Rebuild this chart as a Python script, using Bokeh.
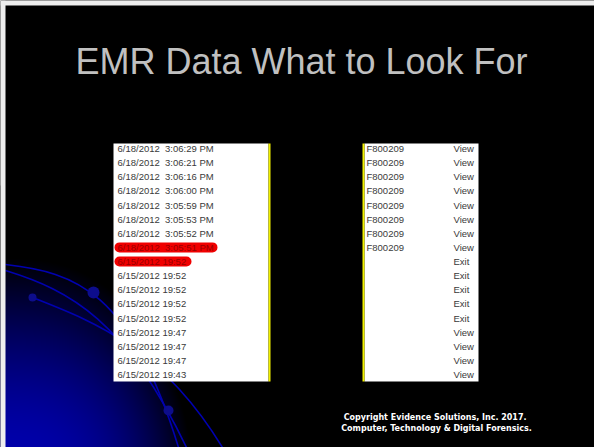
import numpy as np
from bokeh.plotting import figure
from bokeh.models import Range1d, ColumnDataSource
from bokeh.embed import file_html
from bokeh.resources import INLINE
from bokeh.core.properties import value

# ---------------- data ----------------
title_text = "EMR Data What to Look For"

timestamps = [
    "6/18/2012  3:06:29 PM",
    "6/18/2012  3:06:21 PM",
    "6/18/2012  3:06:16 PM",
    "6/18/2012  3:06:00 PM",
    "6/18/2012  3:05:59 PM",
    "6/18/2012  3:05:53 PM",
    "6/18/2012  3:05:52 PM",
    "6/18/2012  3:05:51 PM",
    "6/15/2012 19:52",
    "6/15/2012 19:52",
    "6/15/2012 19:52",
    "6/15/2012 19:52",
    "6/15/2012 19:52",
    "6/15/2012 19:47",
    "6/15/2012 19:47",
    "6/15/2012 19:47",
    "6/15/2012 19:43",
]
user_ids = ["F800209", "F800209", "F800209", "F800209", "F800209", "F800209",
            "F800209", "F800209", "", "", "", "", "", "", "", "", ""]
actions = ["View", "View", "View", "View", "View", "View", "View", "View",
           "Exit", "Exit", "Exit", "Exit", "Exit", "View", "View", "View", "View"]
highlight_rows = [7, 8]

copyright_lines = ["Copyright Evidence Solutions, Inc.  2017.",
                   "Computer, Technology & Digital Forensics."]

# ---------------- layout helpers (reference pixel space) ----------------
W, H = 594, 447
def Y(s):  # screen y -> data y
    return H - s

ROW0, STEP = 148.0, 14.125
row_y = [Y(ROW0 + i * STEP) for i in range(len(timestamps))]

p = figure(width=W, height=H, x_range=Range1d(0, W), y_range=Range1d(0, H),
           output_backend="svg", toolbar_location=None, x_axis_type=None,
           y_axis_type=None, min_border=0, outline_line_color=None,
           background_fill_color="black", border_fill_color="black")
p.grid.visible = False

# background blue glow in the lower-left corner
GW, GH = 320, 262
ii, jj = np.meshgrid(np.arange(GW), np.arange(GH))
dx = (ii + 0.5) - 5
dy = jj + 0.5
f = np.clip(1 - (np.clip(dx, 0, None) / 185.0) ** 2.5 - (dy / 190.0) ** 1.5, 0, 1)
img = np.zeros((GH, GW), dtype=np.uint32)
v = img.view(dtype=np.uint8).reshape((GH, GW, 4))
v[..., 0] = 0
v[..., 1] = 0
v[..., 2] = (170 * f).astype(np.uint8)
v[..., 3] = 255
p.image_rgba(image=[img], x=0, y=0, dw=GW, dh=GH)

# decorative arcs
arcs = dict(
    x0=[5, 5, 32], y0=[Y(264), Y(270), Y(297)],
    cx0=[75, 70, 90], cy0=[Y(272), Y(290), Y(320)],
    cx1=[130, 125, 160], cy1=[Y(290), Y(320), Y(345)],
    x1=[178, 186, 222], y1=[Y(447), Y(447), Y(447)],
)
p.bezier(source=ColumnDataSource(arcs), x0="x0", y0="y0", x1="x1", y1="y1",
         cx0="cx0", cy0="cy0", cx1="cx1", cy1="cy1",
         line_color="#0000b0", line_width=1.6)
p.circle(x=[93, 32, 168], y=[Y(292), Y(297), Y(410)], radius=[6, 4, 5],
         fill_color="#0d0d8c", line_color=None)

# light frame strips on the left and top edges
p.quad(left=[0, 0], right=[5, W], top=[H, H], bottom=[0, Y(5)],
       fill_color="#eeeeee", line_color=None)

# title
p.text(x=[301], y=[Y(61)], text=[title_text], text_font=value("Liberation Sans"),
       text_font_size="36px", text_color="#c0c0c0", text_align="center",
       text_baseline="middle")

# table panels
p.quad(left=[113, 364], right=[268, 478], top=[Y(143), Y(143)],
       bottom=[Y(381), Y(381)], fill_color="white", line_color=None)
p.quad(left=[268, 362], right=[270, 364], top=[Y(143), Y(143)],
       bottom=[Y(381), Y(381)], fill_color="#f2f200", line_color=None)

# red highlight pills
pill_right = [217, 191]
p.hbar(y=[row_y[r] for r in highlight_rows], left=114, right=pill_right, height=10,
       fill_color="#f00000", line_color=None, border_radius=5)

# table text
colors = ["#990000" if i in highlight_rows else "#3a3a3a" for i in range(len(timestamps))]
src = ColumnDataSource(dict(
    y=row_y,
    ts=[t.replace("  ", "\u00a0 ") for t in timestamps],
    uid=user_ids, act=actions, col=colors))
common = dict(text_font=value("Liberation Sans"), text_font_size="9.5px",
              text_baseline="middle", text_align="left")
p.text(x=117, y="y", text="ts", text_color="col", source=src, **common)
p.text(x=366, y="y", text="uid", text_color="#3a3a3a", source=src, **common)
p.text(x=453, y="y", text="act", text_color="#3a3a3a", source=src, **common)

# copyright
p.text(x=[436, 436], y=[Y(417), Y(428)], text=copyright_lines,
       text_font=value("DejaVu Sans"), text_font_style="bold",
       text_font_size="8px", text_color="white", text_align="center",
       text_baseline="middle")

open("out.html", "w").write(file_html(p, INLINE))
